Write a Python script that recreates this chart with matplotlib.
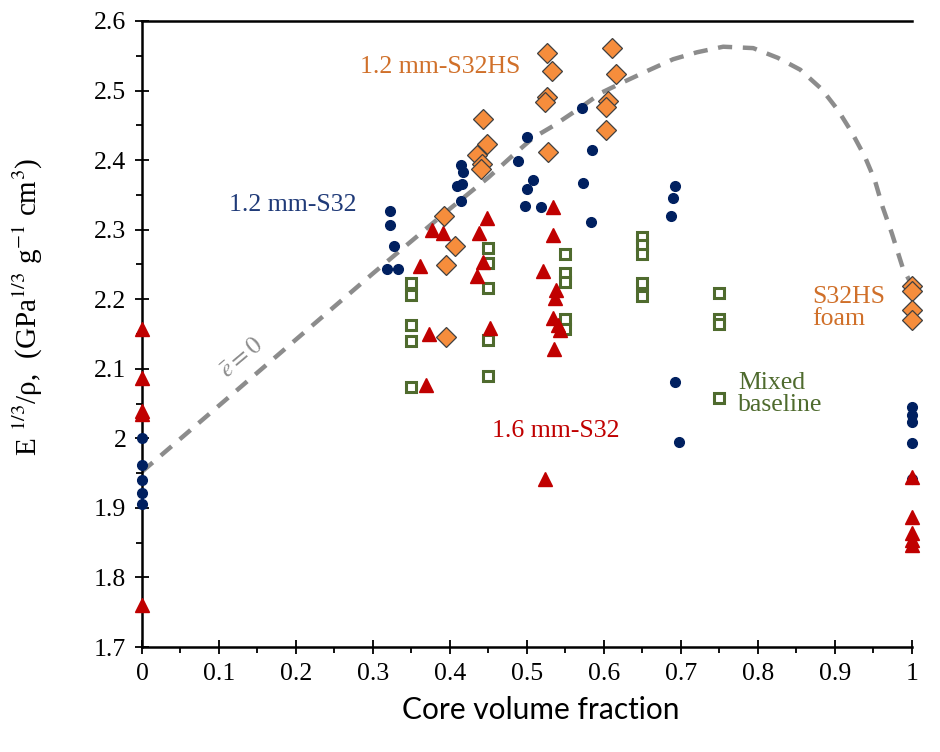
import numpy as np
import matplotlib
matplotlib.use("Agg")
import matplotlib.pyplot as plt
from matplotlib.ticker import MultipleLocator, FuncFormatter

plt.rcParams['font.family'] = ['Liberation Serif', 'DejaVu Serif']
plt.rcParams['mathtext.fontset'] = 'stix'

# 1.2 mm-S32 (navy circles)
s32_12_x = [0, 0, 0, 0, 0,
            0.322, 0.322, 0.327, 0.318, 0.333,
            0.414, 0.417, 0.409, 0.416, 0.414,
            0.571, 0.500, 0.488, 0.584, 0.508, 0.500, 0.573, 0.497, 0.519, 0.583,
            0.692, 0.690, 0.687, 0.692, 0.697,
            1, 1, 1, 1, 1]
s32_12_y = [2.000, 1.962, 1.940, 1.922, 1.905,
            2.327, 2.307, 2.277, 2.243, 2.244,
            2.393, 2.383, 2.363, 2.365, 2.341,
            2.475, 2.433, 2.399, 2.415, 2.371, 2.359, 2.367, 2.334, 2.333, 2.311,
            2.363, 2.346, 2.320, 2.081, 1.995,
            2.045, 2.034, 2.024, 1.994, 1.941]

# mixed baseline (open green squares)
mixed_x = [0.35] * 5 + [0.45] * 5 + [0.55] * 5 + [0.65] * 5 + [0.75] * 4
mixed_y = [2.224, 2.206, 2.163, 2.140, 2.074,
           2.274, 2.252, 2.216, 2.141, 2.089,
           2.265, 2.238, 2.225, 2.172, 2.157,
           2.290, 2.278, 2.265, 2.224, 2.204,
           2.209, 2.172, 2.164, 2.058]

# 1.6 mm-S32 (red triangles)
s32_16_x = [0, 0, 0, 0, 0,
            0.448, 0.377, 0.391, 0.438, 0.361, 0.443, 0.435, 0.373, 0.452, 0.369,
            0.534, 0.534, 0.521, 0.538, 0.536, 0.534, 0.541, 0.543, 0.535, 0.523,
            1, 1, 1, 1, 1]
s32_16_y = [2.157, 2.087, 2.040, 2.035, 1.760,
            2.317, 2.300, 2.295, 2.295, 2.248, 2.254, 2.234, 2.150, 2.159, 2.076,
            2.333, 2.293, 2.240, 2.213, 2.202, 2.173, 2.163, 2.156, 2.129, 1.941,
            1.945, 1.887, 1.864, 1.854, 1.846]

# 1.2 mm-S32HS and S32HS foam (orange diamonds)
s32hs_x = [0.392, 0.406, 0.395, 0.395,
           0.443, 0.448, 0.435, 0.442, 0.440,
           0.526, 0.533, 0.526, 0.523, 0.527,
           0.610, 0.616, 0.605, 0.603, 0.603,
           1, 1, 1, 1]
s32hs_y = [2.320, 2.277, 2.249, 2.145,
           2.459, 2.423, 2.407, 2.395, 2.387,
           2.554, 2.528, 2.491, 2.484, 2.412,
           2.561, 2.524, 2.485, 2.476, 2.443,
           2.219, 2.212, 2.185, 2.170]

# e-bar = 0 boundary
curve_x = [0, 0.1, 0.2, 0.3, 0.4, 0.45, 0.48, 0.508, 0.534, 0.565, 0.597, 0.625,
           0.66, 0.69, 0.721, 0.755, 0.794, 0.826, 0.855, 0.883, 0.904, 0.922,
           0.939, 0.952, 0.962, 0.974, 0.988, 1.0]
curve_y = [1.952, 2.047, 2.142, 2.237, 2.330, 2.375, 2.405, 2.432, 2.449, 2.472,
           2.497, 2.512, 2.530, 2.545, 2.555, 2.563, 2.561, 2.547, 2.530, 2.502,
           2.472, 2.440, 2.405, 2.371, 2.333, 2.295, 2.246, 2.220]

navy = '#002060'
red = '#C00000'
orange = '#F68D3C'
green = '#4F6B2E'
label_orange = '#D0702A'

fig = plt.figure(figsize=(9.4, 7.52), dpi=100)
ax = fig.add_axes([0.151, 0.1396, 0.819, 0.8325])

ax.plot(curve_x, curve_y, ls=(0, (3.2, 2.4)), color='#8C8C8C', lw=3.2, zorder=1)

ax.plot(s32_12_x, s32_12_y, 'o', color=navy, ms=7, mec=navy, zorder=3, clip_on=False)
ax.plot(mixed_x, mixed_y, 's', mfc='white', mec=green, mew=2.2, ms=7.5, zorder=3, clip_on=False)
ax.plot(s32_16_x, s32_16_y, '^', color=red, ms=9.5, mec=red, zorder=4, clip_on=False)
ax.plot(s32hs_x, s32hs_y, 'D', mfc=orange, mec='#404040', mew=0.9, ms=10.5, zorder=5,
        clip_on=False)

ax.set_xlim(0, 1)
ax.set_ylim(1.7, 2.6)
ax.xaxis.set_major_locator(MultipleLocator(0.1))
ax.xaxis.set_minor_locator(MultipleLocator(0.05))
ax.yaxis.set_major_locator(MultipleLocator(0.1))
ax.yaxis.set_minor_locator(MultipleLocator(0.05))
fmt = FuncFormatter(lambda v, p: '{:g}'.format(round(v, 2)))
ax.xaxis.set_major_formatter(fmt)
ax.yaxis.set_major_formatter(fmt)
ax.tick_params(which='major', direction='inout', length=10.5, width=1.3, labelsize=18.5)
ax.tick_params(which='minor', direction='out', length=4.5, width=1.3)
ax.tick_params(axis='x', pad=6)
ax.tick_params(axis='y', pad=6)

for side in ['left', 'bottom', 'top']:
    ax.spines[side].set_linewidth(1.8)
ax.spines['right'].set_visible(False)

# axis titles placed in figure coordinates
fig.text(541 / 940, 1 - 710 / 752, 'Core volume fraction', family=['Lato', 'DejaVu Sans'],
         fontsize=21.5, ha='center', va='center')
fig.text(28 / 940, 1 - 307 / 752, r'E $^{1/3}$/ρ,  (GPa$^{1/3}$ g$^{-1}$ cm$^{3}$)',
         fontsize=21, rotation=90, ha='center', va='center')

lab = dict(fontsize=18.5, va='center')
ax.text(0.196, 2.336, '1.2 mm-S32', color='#1F3A78', ha='center', **lab)
ax.text(0.387, 2.534, '1.2 mm-S32HS', color=label_orange, ha='center', **lab)
ax.text(0.538, 2.011, '1.6 mm-S32', color=red, ha='center', **lab)
ax.text(0.871, 2.188, 'S32HS\nfoam', color=label_orange, ha='left', linespacing=1.0, **lab)
ax.text(0.774, 2.064, 'Mixed\nbaseline', color=green, ha='left', linespacing=1.0, **lab)
ax.text(0.129, 2.116, r'$\bar{e} = 0$', color='#8C8C8C', fontsize=18, ha='center', va='center',
        rotation=40)

fig.savefig('out.png', dpi=100)
